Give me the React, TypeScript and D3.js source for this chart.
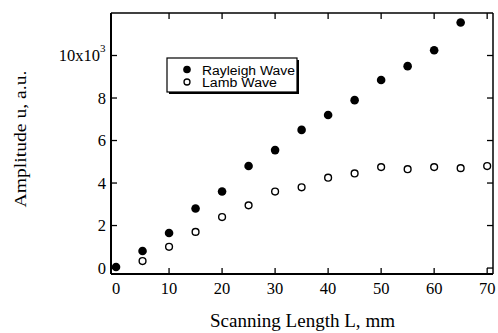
import React from "react";
import * as d3 from "d3";

const xTicks = [0, 10, 20, 30, 40, 50, 60, 70];
const yTicks = [0, 2000, 4000, 6000, 8000, 10000];
const yTickLabels = ["0", "2", "4", "6", "8", "10x10"];

const rayleighX = [0, 5, 10, 15, 20, 25, 30, 35, 40, 45, 50, 55, 60, 65];
const rayleighY = [50, 800, 1650, 2800, 3600, 4800, 5550, 6500, 7200, 7900, 8850, 9500, 10250, 11550];

const lambX = [5, 10, 15, 20, 25, 30, 35, 40, 45, 50, 55, 60, 65, 70];
const lambY = [330, 1000, 1700, 2400, 2950, 3600, 3800, 4250, 4450, 4750, 4650, 4750, 4700, 4800];

const legendLabels = ["Rayleigh Wave", "Lamb Wave"];

export default function App() {
  const W = 498, H = 333;
  const left = 111, right = 493, top = 13, bottom = 274;
  const x = d3.scaleLinear().domain([-0.95, 71.1]).range([left, right]);
  const y = d3.scaleLinear().domain([-280, 12000]).range([bottom, top]);
  const tl = 6;
  const serif = "'Liberation Serif', 'Times New Roman', serif";
  const sans = "'Liberation Sans', Arial, sans-serif";

  return (
    <svg width={W} height={H} style={{ position: "absolute", left: 0, top: 0, background: "#fff" }}>
      <rect x={0} y={0} width={W} height={H} fill="#fff" />
      {/* frame */}
      <line x1={left} y1={top} x2={left} y2={bottom} stroke="#000" strokeWidth={2} />
      <line x1={left} y1={bottom} x2={right} y2={bottom} stroke="#000" strokeWidth={2} />
      <line x1={left} y1={top} x2={right} y2={top} stroke="#000" strokeWidth={1.5} />
      <line x1={right} y1={top} x2={right} y2={bottom} stroke="#000" strokeWidth={1.5} />
      {/* x ticks */}
      {xTicks.map((t) => (
        <g key={"x" + t}>
          {t > 0 && <line x1={x(t)} x2={x(t)} y1={bottom} y2={bottom - tl} stroke="#000" strokeWidth={1.3} />}
          {t > 0 && <line x1={x(t)} x2={x(t)} y1={top} y2={top + tl} stroke="#000" strokeWidth={1.3} />}
          <text x={x(t)} y={bottom + 20} textAnchor="middle" fontFamily={serif} fontSize={16.5}>{t}</text>
        </g>
      ))}
      {/* y ticks */}
      {yTicks.map((t, i) => (
        <g key={"y" + t}>
          <line x1={left} x2={left + tl} y1={y(t)} y2={y(t)} stroke="#000" strokeWidth={1.3} />
          <line x1={right} x2={right - tl} y1={y(t)} y2={y(t)} stroke="#000" strokeWidth={1.3} />
          <text x={i < yTicks.length - 1 ? left - 5 : left - 11} y={y(t) + 5.5} textAnchor="end" fontFamily={serif} fontSize={16.5}>
            {yTickLabels[i]}
          </text>
        </g>
      ))}
      <text x={left - 11} y={y(10000) - 4} textAnchor="start" fontFamily={serif} fontSize={11}>3</text>
      {/* data */}
      {rayleighX.map((v, i) => (
        <circle key={"r" + i} cx={x(v)} cy={y(rayleighY[i])} r={4.3} fill="#000" />
      ))}
      {lambX.map((v, i) => (
        <circle key={"l" + i} cx={x(v)} cy={y(lambY[i])} r={3.4} fill="#fff" stroke="#000" strokeWidth={1.4} />
      ))}
      {/* legend */}
      <rect x={169} y={60} width={130} height={34} fill="#000" />
      <rect x={167} y={58} width={130} height={34} fill="#fff" stroke="#000" strokeWidth={1.2} />
      <circle cx={187} cy={69.5} r={3.8} fill="#000" />
      <text x={202} y={74.5} fontFamily={sans} fontSize={12} textLength={93} lengthAdjust="spacingAndGlyphs">{legendLabels[0]}</text>
      <circle cx={187} cy={82} r={3} fill="#fff" stroke="#000" strokeWidth={1.3} />
      <text x={202} y={87} fontFamily={sans} fontSize={12} textLength={75} lengthAdjust="spacingAndGlyphs">{legendLabels[1]}</text>
      {/* axis titles */}
      <text x={302.5} y={327} textAnchor="middle" fontFamily={serif} fontSize={18} textLength={185} lengthAdjust="spacingAndGlyphs">Scanning Length L, mm</text>
      <text transform="translate(26,139) rotate(-90)" textAnchor="middle" fontFamily={serif} fontSize={17} textLength={137} lengthAdjust="spacingAndGlyphs">Amplitude u, a.u.</text>
    </svg>
  );
}
